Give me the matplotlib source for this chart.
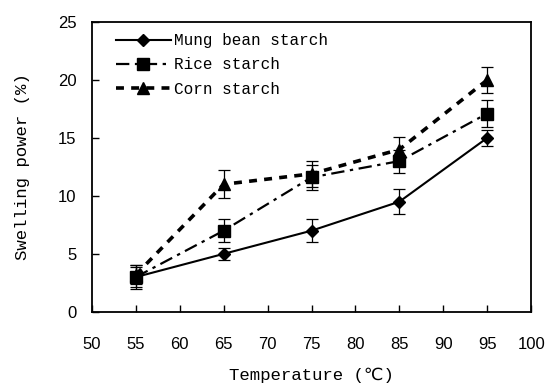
from matplotlib import pyplot as plt
import numpy as np

# Swelling power of starches vs temperature

temperature = [55, 65, 75, 85, 95]

mung_bean = [3.0, 5.0, 7.0, 9.5, 15.0]
mung_bean_err = [0.9, 0.5, 1.0, 1.1, 0.7]

rice = [3.0, 7.0, 11.6, 13.0, 17.1]
rice_err = [1.0, 1.0, 1.1, 1.0, 1.2]

corn = [3.2, 11.0, 11.9, 14.0, 20.0]
corn_err = [0.8, 1.2, 1.1, 1.1, 1.1]

label_font = ['Liberation Mono', 'DejaVu Sans Mono', 'DejaVu Sans']
tick_font = 'Liberation Sans'

fig = plt.figure(figsize=(5.47, 3.85), dpi=100)
ax = fig.add_axes([0.168, 0.19, 0.803, 0.753])

#error bars first, lines + markers on top
for vals, errs in [(mung_bean, mung_bean_err), (rice, rice_err), (corn, corn_err)]:
    ax.errorbar(temperature, vals, yerr=errs, fmt='none', ecolor='black',
                elinewidth=0.9, capsize=4, capthick=0.9)

ax.plot(temperature, mung_bean, color='black', linestyle='-', linewidth=1.5,
        marker='D', markersize=6, label='Mung bean starch')
ax.plot(temperature, rice, color='black', linestyle=(0, (6, 2.5, 1.5, 2.5)), linewidth=1.6,
        marker='s', markersize=8, label='Rice starch')
ax.plot(temperature, corn, color='black', linestyle=(0, (2.2, 2)), linewidth=2.6,
        marker='^', markersize=8, label='Corn starch')

ax.set_xlim(50, 100)
ax.set_ylim(0, 25)
ax.set_xticks(np.arange(50, 101, 5))
ax.set_yticks(np.arange(0, 26, 5))
ax.tick_params(direction='in', length=5, width=1, labelsize=12)
ax.tick_params(axis='x', pad=18)
ax.tick_params(axis='y', pad=11)
for lbl in ax.get_xticklabels() + ax.get_yticklabels():
    lbl.set_fontfamily(tick_font)
for s in ax.spines.values():
    s.set_linewidth(1.3)

ax.set_xlabel('Temperature (℃)', family=label_font, fontsize=12.5, labelpad=11)
ax.set_ylabel('Swelling power (%)', family=label_font, fontsize=12.5, labelpad=20)

leg = ax.legend(loc='upper left', frameon=False, prop={'family': label_font, 'size': 11.5},
                handlelength=3.4, handletextpad=0.2, labelspacing=0.58,
                borderaxespad=0.3, bbox_to_anchor=(0.03, 1.0))

fig.savefig('out.png', dpi=100)
